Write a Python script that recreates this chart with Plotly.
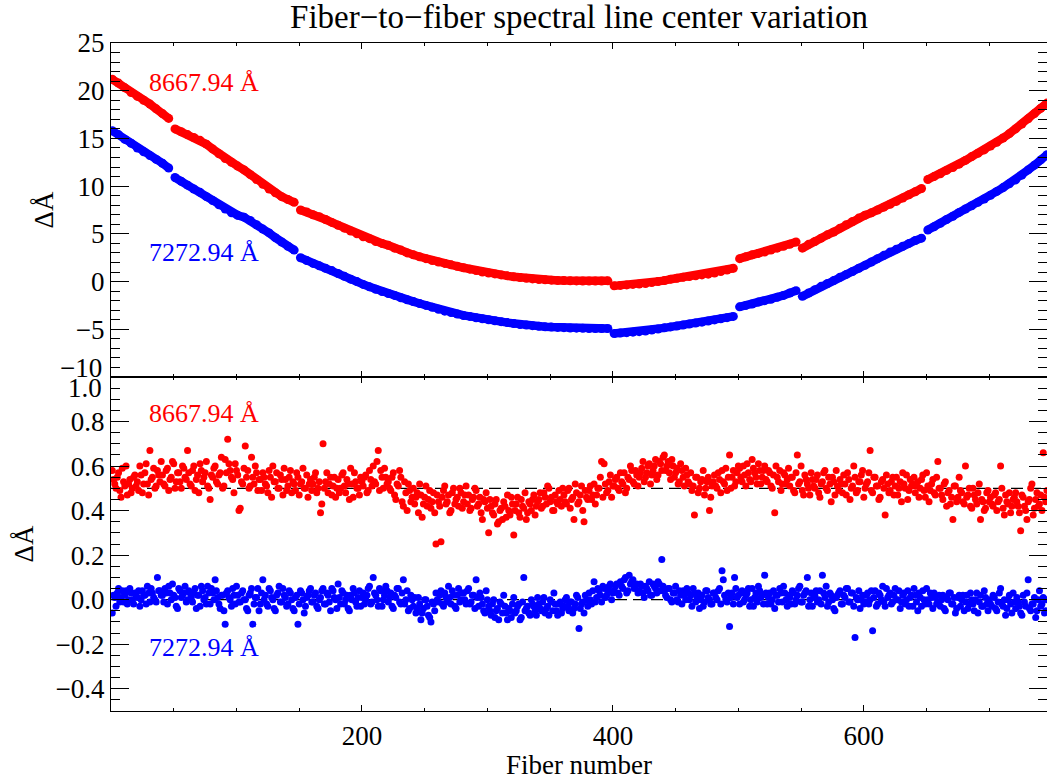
import plotly.graph_objects as go

# ---------------- data ----------------
fiber_top = list(range(1, 747, 5))      # fibers sampled for the top panel
fiber_odd = list(range(1, 746, 2))      # bottom panel, odd fibers
fiber_even = list(range(2, 747, 2))     # bottom panel, even fibers
segment_breaks = [49, 149, 399, 499, 549, 649]   # fibers where the solution jumps

red_top = [
    21.2, 20.8, 20.3, 19.8, 19.4, 19.0, 18.6, 18.1, 17.6, 17.1,
    16.0, 15.7, 15.4, 15.1, 14.8, 14.4, 13.9, 13.4, 12.9, 12.5,
    12.1, 11.7, 11.2, 10.7, 10.2, 9.7, 9.3, 8.9, 8.6, 8.3,
    7.5, 7.3, 7.0, 6.8, 6.5, 6.2, 5.9, 5.6, 5.3, 5.0,
    4.7, 4.5, 4.2, 4.0, 3.8, 3.5, 3.3, 3.0, 2.8, 2.6,
    2.4, 2.2, 2.05, 1.9, 1.75, 1.6, 1.45, 1.3, 1.15, 1.0,
    0.9, 0.8, 0.7, 0.6, 0.5, 0.42, 0.35, 0.28, 0.22, 0.18,
    0.15, 0.12, 0.1, 0.08, 0.07, 0.06, 0.05, 0.05, 0.06, 0.08,
    -0.45, -0.4, -0.35, -0.3, -0.25, -0.2, -0.1, 0.0, 0.1, 0.25,
    0.35, 0.45, 0.52, 0.6, 0.7, 0.78, 0.9, 1.05, 1.2, 1.4,
    2.4, 2.6, 2.8, 2.95, 3.1, 3.3, 3.5, 3.7, 3.9, 4.15,
    3.5, 3.9, 4.2, 4.55, 4.9, 5.2, 5.6, 5.95, 6.3, 6.65,
    6.95, 7.2, 7.5, 7.8, 8.1, 8.4, 8.75, 9.1, 9.4, 9.75,
    10.7, 11.0, 11.3, 11.65, 11.95, 12.3, 12.7, 13.1, 13.45, 13.8,
    14.2, 14.6, 15.05, 15.5, 16.0, 16.5, 17.05, 17.6, 18.15, 18.7,
]

blue_top = [
    15.8, 15.4, 14.9, 14.5, 14.0, 13.6, 13.2, 12.8, 12.4, 11.9,
    10.9, 10.5, 10.1, 9.7, 9.35, 8.9, 8.5, 8.05, 7.6, 7.2,
    6.95, 6.75, 6.4, 5.95, 5.5, 5.1, 4.6, 4.15, 3.7, 3.3,
    2.5, 2.2, 1.9, 1.65, 1.4, 1.15, 0.85, 0.55, 0.25, 0.0,
    -0.3, -0.55, -0.8, -1.05, -1.25, -1.45, -1.7, -1.9, -2.1, -2.3,
    -2.5, -2.7, -2.9, -3.1, -3.25, -3.4, -3.55, -3.65, -3.8, -3.9,
    -4.0, -4.1, -4.2, -4.3, -4.4, -4.5, -4.55, -4.62, -4.68, -4.73,
    -4.77, -4.8, -4.83, -4.86, -4.88, -4.9, -4.92, -4.93, -4.93, -4.92,
    -5.45, -5.4, -5.35, -5.3, -5.25, -5.18, -5.08, -4.98, -4.85, -4.75,
    -4.65, -4.55, -4.45, -4.35, -4.25, -4.13, -4.02, -3.9, -3.78, -3.65,
    -2.65, -2.5, -2.35, -2.15, -2.0, -1.85, -1.65, -1.45, -1.2, -0.95,
    -1.55, -1.2, -0.85, -0.5, -0.2, 0.1, 0.45, 0.75, 1.05, 1.4,
    1.7, 2.05, 2.4, 2.75, 3.1, 3.4, 3.7, 4.0, 4.3, 4.55,
    5.4, 5.75, 6.1, 6.5, 6.85, 7.25, 7.6, 7.95, 8.3, 8.65,
    9.05, 9.45, 9.85, 10.25, 10.65, 11.15, 11.7, 12.2, 12.75, 13.3,
]

red_bot_odd = [
    0.58, 0.52, 0.55, 0.49, 0.59, 0.51, 0.47, 0.54, 0.50, 0.56,
    0.53, 0.60, 0.48, 0.57, 0.52, 0.67, 0.55, 0.50, 0.58, 0.53,
    0.56, 0.51, 0.59, 0.54, 0.62, 0.50, 0.57, 0.53, 0.60, 0.55,
    0.67, 0.52, 0.58, 0.49, 0.56, 0.61, 0.53, 0.57, 0.51, 0.45,
    0.55, 0.60, 0.52, 0.57, 0.50, 0.63, 0.72, 0.58, 0.54, 0.61,
    0.56, 0.41, 0.52, 0.69, 0.58, 0.51, 0.55, 0.60, 0.49, 0.54,
    0.57, 0.52, 0.48, 0.55, 0.60, 0.53, 0.50, 0.56, 0.47, 0.54,
    0.51, 0.58, 0.53, 0.49, 0.55, 0.52, 0.59, 0.50, 0.46, 0.54,
    0.52, 0.57, 0.50, 0.39, 0.70, 0.53, 0.48, 0.55, 0.51, 0.46,
    0.54, 0.50, 0.57, 0.48, 0.52, 0.59, 0.46, 0.53, 0.50, 0.55,
    0.51, 0.56, 0.49, 0.54, 0.60, 0.52, 0.67, 0.58, 0.50, 0.55,
    0.53, 0.49, 0.57, 0.45, 0.51, 0.55, 0.42, 0.48, 0.52, 0.44,
    0.50, 0.46, 0.39, 0.47, 0.43, 0.51, 0.45, 0.41, 0.48, 0.25,
    0.44, 0.26, 0.49, 0.43, 0.47, 0.40, 0.50, 0.45, 0.42, 0.48,
    0.44, 0.51, 0.47, 0.41, 0.46, 0.49, 0.43, 0.39, 0.45, 0.48,
    0.30, 0.42, 0.38, 0.45, 0.35, 0.41, 0.44, 0.37, 0.40, 0.46,
    0.29, 0.43, 0.39, 0.45, 0.41, 0.36, 0.44, 0.40, 0.47, 0.42,
    0.45, 0.41, 0.48, 0.43, 0.50, 0.46, 0.40, 0.44, 0.49, 0.42,
    0.47, 0.43, 0.50, 0.45, 0.36, 0.48, 0.44, 0.51, 0.35, 0.46,
    0.49, 0.45, 0.52, 0.47, 0.50, 0.62, 0.61, 0.48, 0.53, 0.46,
    0.51, 0.55, 0.49, 0.53, 0.57, 0.50, 0.54, 0.58, 0.52, 0.56,
    0.55, 0.59, 0.53, 0.57, 0.61, 0.56, 0.60, 0.54, 0.62, 0.58,
    0.65, 0.60, 0.57, 0.63, 0.55, 0.59, 0.53, 0.58, 0.51, 0.56,
    0.52, 0.49, 0.38, 0.55, 0.50, 0.54, 0.47, 0.53, 0.40, 0.51,
    0.56, 0.50, 0.54, 0.58, 0.52, 0.49, 0.65, 0.55, 0.51, 0.57,
    0.59, 0.53, 0.56, 0.61, 0.54, 0.63, 0.57, 0.52, 0.58, 0.55,
    0.60, 0.53, 0.57, 0.50, 0.39, 0.55, 0.58, 0.52, 0.56, 0.54,
    0.51, 0.55, 0.48, 0.65, 0.53, 0.49, 0.56, 0.52, 0.47, 0.54,
    0.50, 0.56, 0.46, 0.53, 0.58, 0.49, 0.52, 0.55, 0.47, 0.51,
    0.54, 0.48, 0.52, 0.57, 0.45, 0.51, 0.55, 0.49, 0.53, 0.58,
    0.50, 0.53, 0.67, 0.48, 0.55, 0.51, 0.46, 0.54, 0.38, 0.52,
    0.49, 0.55, 0.51, 0.47, 0.53, 0.57, 0.50, 0.45, 0.54, 0.52,
    0.48, 0.53, 0.50, 0.56, 0.46, 0.51, 0.49, 0.54, 0.47, 0.62,
    0.50, 0.45, 0.53, 0.48, 0.43, 0.36, 0.51, 0.46, 0.49, 0.44,
    0.60, 0.47, 0.42, 0.50, 0.45, 0.48, 0.36, 0.44, 0.41, 0.49,
    0.46, 0.42, 0.48, 0.44, 0.60, 0.41, 0.47, 0.43, 0.39, 0.45,
    0.48, 0.42, 0.31, 0.46, 0.40, 0.44, 0.50, 0.38, 0.45, 0.42,
    0.47, 0.66, 0.44,
]

red_bot_even = [
    0.54, 0.50, 0.57, 0.46, 0.53, 0.60, 0.52, 0.48, 0.55, 0.51,
    0.49, 0.56, 0.52, 0.61, 0.47, 0.54, 0.59, 0.51, 0.56, 0.62,
    0.52, 0.58, 0.49, 0.55, 0.61, 0.53, 0.57, 0.50, 0.59, 0.54,
    0.57, 0.51, 0.60, 0.54, 0.48, 0.58, 0.55, 0.62, 0.50, 0.56,
    0.59, 0.53, 0.56, 0.64, 0.51, 0.57, 0.61, 0.55, 0.48, 0.58,
    0.40, 0.53, 0.59, 0.55, 0.50, 0.64, 0.52, 0.57, 0.54, 0.49,
    0.55, 0.51, 0.58, 0.46, 0.53, 0.57, 0.50, 0.54, 0.59, 0.49,
    0.55, 0.48, 0.52, 0.57, 0.47, 0.53, 0.50, 0.56, 0.52, 0.49,
    0.55, 0.48, 0.53, 0.43, 0.50, 0.57, 0.52, 0.47, 0.55, 0.50,
    0.48, 0.56, 0.51, 0.54, 0.45, 0.52, 0.57, 0.50, 0.47, 0.53,
    0.55, 0.48, 0.58, 0.51, 0.53, 0.62, 0.49, 0.55, 0.59, 0.52,
    0.50, 0.55, 0.47, 0.52, 0.58, 0.44, 0.53, 0.40, 0.49, 0.46,
    0.43, 0.48, 0.52, 0.37, 0.46, 0.42, 0.49, 0.44, 0.39, 0.47,
    0.42, 0.46, 0.51, 0.44, 0.39, 0.48, 0.43, 0.46, 0.50, 0.41,
    0.47, 0.43, 0.40, 0.45, 0.50, 0.42, 0.46, 0.36, 0.44, 0.41,
    0.45, 0.39, 0.43, 0.34, 0.40, 0.36, 0.42, 0.47, 0.38, 0.43,
    0.40, 0.46, 0.37, 0.42, 0.48, 0.39, 0.43, 0.45, 0.38, 0.44,
    0.48, 0.42, 0.46, 0.51, 0.44, 0.40, 0.47, 0.43, 0.45, 0.50,
    0.44, 0.49, 0.41, 0.46, 0.52, 0.43, 0.47, 0.40, 0.49, 0.45,
    0.51, 0.47, 0.43, 0.50, 0.55, 0.46, 0.52, 0.49, 0.56, 0.51,
    0.54, 0.50, 0.57, 0.52, 0.48, 0.55, 0.60, 0.53, 0.58, 0.51,
    0.57, 0.62, 0.55, 0.60, 0.52, 0.58, 0.63, 0.56, 0.61, 0.64,
    0.58, 0.62, 0.54, 0.60, 0.57, 0.52, 0.61, 0.55, 0.59, 0.53,
    0.57, 0.51, 0.55, 0.48, 0.53, 0.58, 0.50, 0.55, 0.46, 0.53,
    0.51, 0.57, 0.48, 0.53, 0.59, 0.55, 0.50, 0.58, 0.53, 0.60,
    0.55, 0.60, 0.51, 0.57, 0.53, 0.59, 0.55, 0.61, 0.52, 0.58,
    0.54, 0.58, 0.51, 0.56, 0.60, 0.53, 0.49, 0.57, 0.52, 0.59,
    0.55, 0.49, 0.57, 0.52, 0.60, 0.47, 0.54, 0.50, 0.57, 0.51,
    0.54, 0.48, 0.52, 0.57, 0.50, 0.55, 0.44, 0.53, 0.58, 0.49,
    0.52, 0.56, 0.47, 0.54, 0.50, 0.60, 0.48, 0.53, 0.56, 0.46,
    0.52, 0.57, 0.49, 0.55, 0.51, 0.45, 0.53, 0.50, 0.56, 0.48,
    0.53, 0.47, 0.55, 0.50, 0.44, 0.52, 0.56, 0.49, 0.51, 0.55,
    0.51, 0.46, 0.54, 0.49, 0.57, 0.44, 0.52, 0.48, 0.55, 0.50,
    0.47, 0.52, 0.42, 0.49, 0.46, 0.51, 0.44, 0.55, 0.48, 0.43,
    0.46, 0.50, 0.41, 0.47, 0.43, 0.52, 0.45, 0.40, 0.48, 0.44,
    0.43, 0.47, 0.40, 0.45, 0.50, 0.38, 0.44, 0.48, 0.42, 0.46,
    0.44, 0.39, 0.47, 0.42, 0.36, 0.45, 0.52, 0.41, 0.48, 0.43,
    0.40, 0.46, 0.49,
]

blue_bot_odd = [
    -0.06, 0.01, 0.03, -0.01, 0.04, 0.02, -0.02, 0.05, 0.00, 0.03,
    0.01, -0.03, 0.04, 0.02, 0.06, -0.01, 0.03, 0.00, 0.10, 0.04,
    0.02, 0.05, -0.02, 0.03, 0.07, 0.01, -0.04, 0.04, 0.02, 0.06,
    0.00, 0.03, -0.01, 0.05, 0.02, -0.03, 0.04, 0.01, 0.06, -0.02,
    0.03, 0.09, 0.01, -0.04, 0.02, -0.11, 0.04, 0.00, 0.05, -0.02,
    0.02, -0.01, 0.04, 0.00, -0.05, 0.03, -0.11, 0.01, 0.05, -0.02,
    0.09, 0.02, -0.03, 0.04, 0.00, -0.05, 0.03, -0.01, 0.05, 0.01,
    -0.02, 0.03, -0.04, 0.01, -0.11, 0.04, 0.00, -0.03, 0.02, 0.05,
    -0.01, 0.03, -0.04, 0.01, 0.05, -0.02, 0.02, -0.05, 0.04, 0.00,
    0.07, -0.02, 0.03, 0.00, -0.04, 0.02, 0.05, -0.01, 0.01, -0.03,
    0.03, 0.00, 0.05, -0.02, 0.10, 0.02, -0.03, 0.04, 0.00, 0.06,
    -0.01, 0.03, -0.04, 0.01, 0.05, -0.02, 0.09, 0.00, -0.05, 0.02,
    -0.03, -0.06, 0.01, -0.09, -0.04, 0.00, -0.07, -0.10, -0.02, 0.03,
    -0.01, 0.04, -0.03, 0.01, 0.06, -0.02, 0.02, -0.04, 0.05, 0.00,
    0.03, -0.02, 0.05, -0.01, 0.02, 0.09, -0.03, 0.01, -0.05, 0.04,
    -0.03, -0.07, 0.00, -0.05, -0.09, -0.02, 0.02, -0.06, -0.04, -0.08,
    0.01, -0.05, -0.02, -0.08, 0.10, -0.04, -0.06, 0.00, -0.03, -0.07,
    -0.02, -0.05, 0.01, -0.04, -0.07, -0.01, 0.03, -0.05, -0.02, -0.06,
    -0.03, 0.01, -0.05, -0.01, -0.04, 0.02, -0.13, -0.02, -0.06, 0.00,
    0.03, -0.02, 0.08, 0.01, 0.04, -0.01, 0.05, 0.02, 0.06, 0.00,
    0.04, 0.07, 0.02, 0.06, 0.09, 0.03, 0.11, 0.08, 0.05, 0.07,
    0.04, 0.06, 0.01, 0.05, 0.08, 0.02, 0.06, 0.03, 0.07, 0.18,
    0.04, 0.01, 0.05, -0.01, 0.03, 0.00, 0.04, -0.02, 0.02, 0.05,
    0.00, -0.03, 0.03, 0.01, -0.04, 0.02, -0.01, 0.04, 0.00, -0.02,
    0.03, 0.00, 0.05, 0.13, 0.02, -0.01, -0.12, 0.03, 0.10, 0.01,
    -0.02, 0.04, 0.00, 0.03, -0.03, 0.05, 0.01, -0.01, 0.04, 0.02,
    0.11, -0.02, 0.03, 0.00, -0.04, 0.02, 0.05, -0.01, 0.03, -0.03,
    0.01, 0.04, -0.02, 0.02, 0.06, -0.01, 0.03, 0.10, 0.00, -0.03,
    0.02, -0.01, 0.04, 0.11, 0.01, -0.03, 0.03, 0.00, -0.05, 0.02,
    0.04, -0.02, 0.01, 0.05, -0.01, 0.03, -0.17, 0.00, -0.04, 0.02,
    -0.01, 0.03, 0.00, -0.14, 0.04, -0.02, 0.02, 0.06, -0.03, 0.01,
    0.03, -0.01, 0.05, 0.00, -0.04, 0.02, -0.02, 0.04, 0.01, -0.03,
    0.02, -0.05, 0.01, 0.04, -0.02, 0.00, 0.03, -0.04, 0.01, -0.01,
    -0.03, 0.02, -0.05, 0.00, 0.03, -0.02, -0.06, 0.01, -0.03, 0.02,
    -0.01, -0.04, 0.03, -0.02, 0.00, -0.06, 0.02, -0.03, 0.01, -0.05,
    -0.02, 0.02, -0.04, -0.01, 0.05, -0.03, -0.07, 0.00, -0.02, 0.03,
    -0.04, -0.01, -0.06, 0.02, -0.03, 0.09, -0.05, -0.02, -0.08, 0.00,
    -0.03, 0.01, -0.05,
]

blue_bot_even = [
    0.02, -0.03, 0.05, 0.01, -0.01, 0.04, 0.00, 0.03, -0.02, 0.02,
    0.04, 0.00, 0.02, -0.02, 0.03, 0.05, 0.01, -0.01, 0.04, 0.02,
    -0.01, 0.03, 0.06, 0.00, 0.02, -0.03, 0.05, 0.01, 0.03, -0.01,
    0.04, 0.01, 0.03, -0.04, 0.02, 0.06, 0.00, -0.02, 0.03, 0.05,
    0.00, 0.04, -0.02, 0.02, -0.05, 0.03, 0.01, -0.03, 0.02, 0.06,
    -0.01, 0.03, 0.00, -0.04, 0.02, 0.05, -0.02, 0.01, -0.05, 0.03,
    0.00, -0.02, 0.05, 0.01, -0.04, 0.02, 0.06, -0.01, 0.02, -0.03,
    0.04, 0.00, -0.05, 0.02, -0.02, 0.03, -0.06, 0.01, 0.04, -0.01,
    0.02, -0.03, 0.00, 0.04, -0.02, 0.03, -0.01, 0.05, 0.01, -0.04,
    0.01, 0.04, -0.02, 0.02, -0.05, 0.00, 0.03, -0.03, 0.04, 0.01,
    -0.02, 0.02, 0.06, -0.01, 0.03, 0.00, 0.05, -0.03, 0.02, 0.04,
    0.01, -0.03, 0.02, 0.05, -0.01, 0.03, -0.02, 0.04, -0.04, 0.00,
    0.01, -0.04, -0.02, -0.06, 0.00, -0.03, -0.08, -0.01, -0.05, 0.00,
    0.02, -0.02, 0.03, -0.01, 0.01, 0.04, -0.03, 0.02, -0.01, 0.03,
    0.00, 0.04, -0.02, 0.02, -0.04, 0.01, 0.03, -0.02, -0.06, 0.00,
    -0.05, -0.02, -0.08, -0.04, -0.01, -0.06, -0.03, -0.09, -0.05, -0.02,
    -0.06, -0.03, -0.09, -0.01, -0.05, -0.03, -0.07, -0.02, -0.05, 0.01,
    -0.04, -0.01, -0.06, -0.03, 0.00, -0.05, -0.02, -0.07, -0.01, -0.04,
    0.00, -0.03, -0.01, -0.06, -0.02, 0.01, -0.04, -0.01, 0.02, -0.03,
    0.00, 0.04, -0.01, 0.05, 0.02, 0.06, 0.01, 0.04, 0.07, 0.03,
    0.06, 0.03, 0.08, 0.05, 0.10, 0.04, 0.07, 0.09, 0.06, 0.03,
    0.07, 0.03, 0.06, 0.04, 0.02, 0.07, 0.05, 0.08, 0.04, 0.06,
    0.02, 0.05, 0.00, 0.03, 0.06, -0.01, 0.02, 0.04, 0.00, 0.03,
    0.02, 0.05, -0.01, 0.03, 0.00, -0.03, 0.04, 0.01, -0.02, 0.03,
    0.01, 0.04, -0.02, 0.09, 0.00, 0.03, 0.01, -0.02, 0.05, 0.02,
    0.03, -0.01, 0.02, 0.05, 0.00, -0.03, 0.03, 0.06, 0.01, -0.02,
    0.03, 0.01, -0.02, 0.04, 0.02, -0.01, 0.03, 0.06, 0.00, 0.02,
    -0.02, 0.03, 0.00, 0.05, -0.01, 0.02, 0.04, -0.03, 0.03, 0.01,
    0.04, 0.00, -0.02, 0.03, 0.06, -0.01, 0.02, -0.04, 0.01, 0.03,
    -0.02, 0.02, 0.05, -0.01, 0.03, -0.03, 0.01, 0.04, 0.00, -0.02,
    0.02, -0.02, 0.04, 0.01, -0.03, 0.03, 0.00, -0.01, 0.05, 0.02,
    -0.02, 0.02, 0.00, 0.04, -0.01, 0.03, 0.00, -0.03, 0.02, 0.05,
    -0.01, 0.03, -0.03, 0.00, 0.05, -0.02, 0.01, 0.03, -0.02, 0.02,
    0.00, -0.04, 0.01, 0.03, -0.02, 0.01, -0.04, 0.02, 0.00, -0.05,
    0.02, -0.02, 0.00, -0.05, 0.03, -0.01, -0.03, 0.04, -0.02, 0.00,
    -0.03, 0.01, -0.05, 0.03, -0.02, 0.00, -0.04, 0.02, -0.06, -0.01,
    0.01, -0.03, -0.07, -0.01, 0.03, -0.04, -0.02, 0.01, -0.05, 0.04,
    -0.02, -0.06, 0.00,
]

label_red = "8667.94 Å"
label_blue = "7272.94 Å"
ref_levels = [0.5, 0.0]

# ---------------- figure ----------------
RED = "rgb(255,0,0)"
BLUE = "rgb(0,0,255)"
FONT = "Liberation Serif"
FS = 27

fig = go.Figure()


def segments(xs, ys, breaks):
    """Split a curve at the fibers where the wavelength solution jumps."""
    edges = [0] + list(breaks) + [10 ** 6]
    out = []
    for lo, hi in zip(edges[:-1], edges[1:]):
        sx = [x for x in xs if lo <= x < hi]
        sy = [y for x, y in zip(xs, ys) if lo <= x < hi]
        if sx:
            out.append((sx, sy))
    return out


for ys, col in [(red_top, RED), (blue_top, BLUE)]:
    for sx, sy in segments(fiber_top, ys, segment_breaks):
        fig.add_trace(go.Scatter(x=sx, y=sy, mode="lines+markers", xaxis="x2", yaxis="y2",
                                 line=dict(color=col, width=8.5),
                                 marker=dict(color=col, size=9, line=dict(width=0)),
                                 showlegend=False))

for yo, ye, col in [(red_bot_odd, red_bot_even, RED), (blue_bot_odd, blue_bot_even, BLUE)]:
    fig.add_trace(go.Scatter(x=fiber_odd + fiber_even, y=yo + ye, mode="markers",
                             xaxis="x", yaxis="y",
                             marker=dict(color=col, size=7, line=dict(width=0)),
                             showlegend=False))

for lv in ref_levels:
    fig.add_shape(type="line", xref="x", yref="y", x0=0, x1=746, y0=lv, y1=lv,
                  line=dict(color="black", width=1.3, dash="12px,6px"), layer="below")

tickfont = dict(family=FONT, size=FS, color="black")
xcommon = dict(range=[0, 746], tickvals=[200, 400, 600], ticks="inside", ticklen=6,
               tickcolor="black", showline=True, linecolor="black", linewidth=1.3,
               mirror="allticks", showgrid=False, zeroline=False, tickfont=tickfont,
               minor=dict(dtick=50, tick0=0, ticks="inside", ticklen=3, tickcolor="black"))
ycommon = dict(ticks="inside", ticklen=18, tickcolor="black", showline=True,
               linecolor="black", linewidth=1.3, mirror="allticks", showgrid=False,
               zeroline=False, tickfont=tickfont)

top_vals = [-10, -5, 0, 5, 10, 15, 20, 25]
top_text = ["", "\u22125", "0", "5", "10", "15", "20", "25"]
bot_vals = [-0.4, -0.2, 0.0, 0.2, 0.4, 0.6, 0.8, 1.0]
bot_text = ["\u22120.4", "\u22120.2", "0.0", "0.2", "0.4", "0.6", "0.8", ""]

fig.update_layout(
    width=1047, height=780,
    margin=dict(l=111, r=0, t=43, b=69),
    paper_bgcolor="white", plot_bgcolor="white",
    font=dict(family=FONT, size=FS, color="black"),
    title=dict(text="Fiber\u2212to\u2212fiber spectral line center variation",
               x=(111 + 1047) / 2 / 1047, xanchor="center",
               y=1 - 16 / 780, yanchor="middle",
               font=dict(family=FONT, size=33, color="black")),
    xaxis=dict(anchor="y", domain=[0, 1],
               title=dict(text="Fiber number", font=tickfont, standoff=4), **xcommon),
    xaxis2=dict(anchor="y2", domain=[0, 1], matches="x", showticklabels=False, **xcommon),
    yaxis=dict(anchor="x", domain=[0, 0.5], range=[-0.5, 1.0],
               tickvals=bot_vals, ticktext=bot_text,
               minor=dict(dtick=0.05, tick0=0, ticks="inside", ticklen=9, tickcolor="black"),
               title=dict(text="ΔÅ", font=tickfont, standoff=14), **ycommon),
    yaxis2=dict(anchor="x2", domain=[0.5, 1], range=[-10, 25],
                tickvals=top_vals, ticktext=top_text,
                minor=dict(dtick=1, tick0=0, ticks="inside", ticklen=9, tickcolor="black"),
                title=dict(text="ΔÅ", font=tickfont, standoff=14), **ycommon),
)

# edge labels where the two panels meet (they crowd each other as in the original)
plot_w, plot_h = 1047 - 111, 711 - 43
fig.add_annotation(x=(104 - 111) / plot_w, y=(711 - 368) / plot_h, xref="paper", yref="paper",
                   text="\u221210", showarrow=False, xanchor="right", yanchor="middle",
                   font=tickfont)
fig.add_annotation(x=(104 - 111) / plot_w, y=(711 - 388) / plot_h, xref="paper", yref="paper",
                   text="1.0", showarrow=False, xanchor="right", yanchor="middle",
                   font=tickfont)

annfont = 26
fig.add_annotation(x=29, y=20.9, xref="x2", yref="y2", text=label_red, showarrow=False,
                   xanchor="left", yanchor="middle", font=dict(family=FONT, size=annfont, color=RED))
fig.add_annotation(x=29, y=3.05, xref="x2", yref="y2", text=label_blue, showarrow=False,
                   xanchor="left", yanchor="middle", font=dict(family=FONT, size=annfont, color=BLUE))
fig.add_annotation(x=29, y=0.836, xref="x", yref="y", text=label_red, showarrow=False,
                   xanchor="left", yanchor="middle", font=dict(family=FONT, size=annfont, color=RED))
fig.add_annotation(x=29, y=-0.214, xref="x", yref="y", text=label_blue, showarrow=False,
                   xanchor="left", yanchor="middle", font=dict(family=FONT, size=annfont, color=BLUE))

fig.write_html("out.html")
